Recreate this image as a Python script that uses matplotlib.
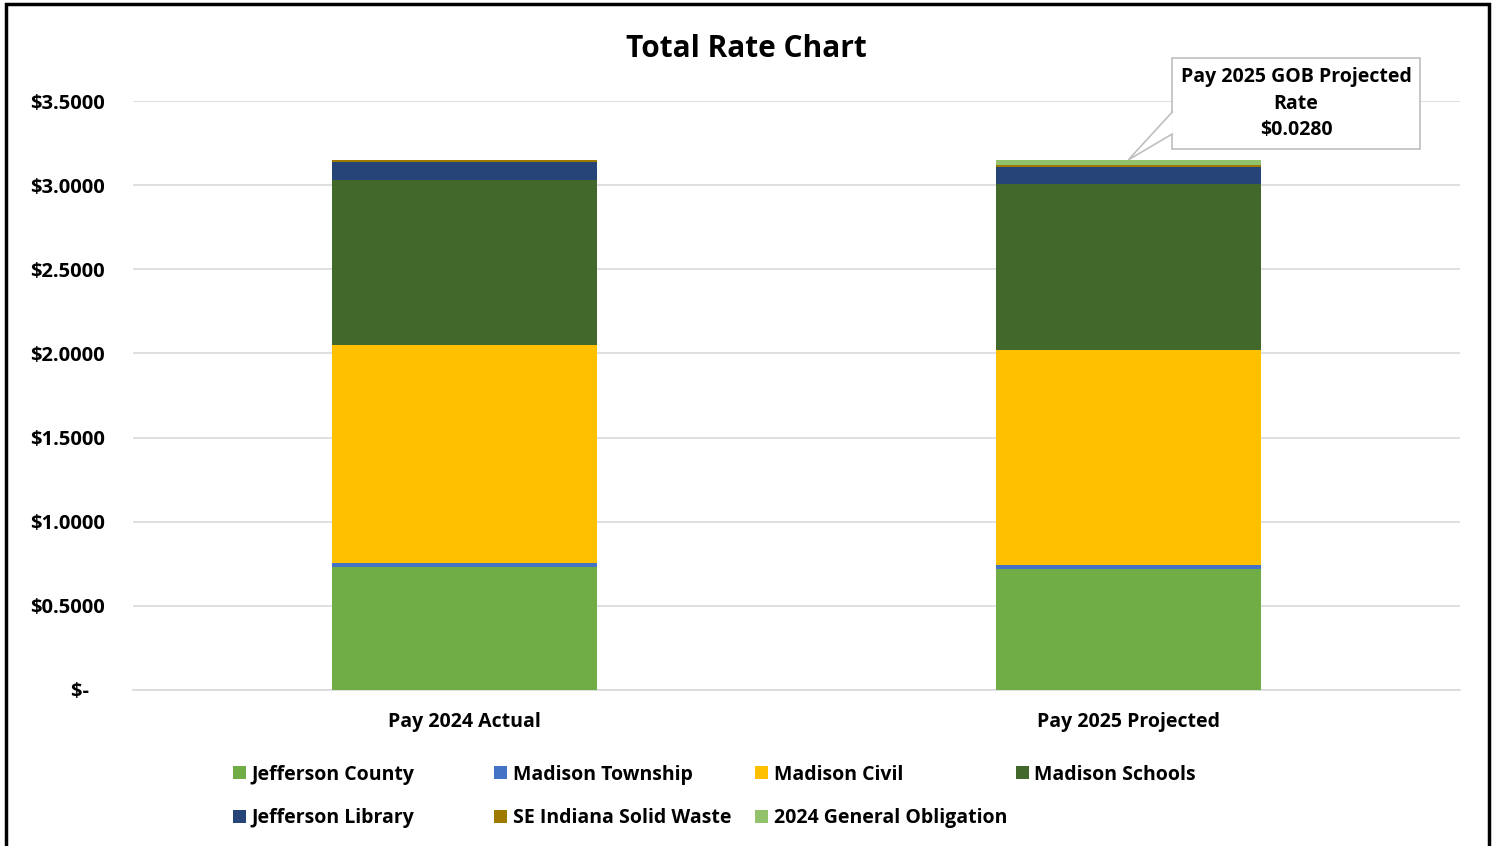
import numpy as np
import matplotlib.pyplot as plt
from matplotlib.patches import Rectangle, Polygon
from matplotlib.transforms import IdentityTransform

plt.rcParams['font.family'] = ['Open Sans', 'DejaVu Sans']
plt.rcParams['font.weight'] = 'bold'

categories = ['Pay 2024 Actual', 'Pay 2025 Projected']
series_names = ['Jefferson County', 'Madison Township', 'Madison Civil', 'Madison Schools',
                'Jefferson Library', 'SE Indiana Solid Waste', '2024 General Obligation']
jefferson_county = [0.731, 0.719]
madison_township = [0.024, 0.026]
madison_civil = [1.295, 1.275]
madison_schools = [0.980, 0.985]
jefferson_library = [0.105, 0.101]
se_solid_waste = [0.014, 0.016]
general_obligation = [0.0, 0.028]
yticks = [0, 0.5, 1.0, 1.5, 2.0, 2.5, 3.0, 3.5]

colors = ['#70ad47', '#4472c4', '#ffc000', '#43682b', '#264478', '#9e7a00', '#92c36c']
series = [jefferson_county, madison_township, madison_civil, madison_schools,
          jefferson_library, se_solid_waste, general_obligation]

fig = plt.figure(figsize=(14.99, 8.46), dpi=100)
ax = fig.add_axes([0.0887, 0.1844, 0.8853, 0.6962])

x = np.arange(len(categories))
bottom = np.zeros(len(categories))
handles = []
for name, vals, c in zip(series_names, series, colors):
    h = ax.bar(x, vals, 0.4, bottom=bottom, color=c, label=name, zorder=3)
    handles.append(h)
    bottom += np.array(vals)

ax.set_xlim(-0.5, 1.5)
ax.set_ylim(0, 3.5)
ax.set_yticks(yticks)
ax.set_yticklabels(['$-   '] + ['$%.4f' % v for v in yticks[1:]], fontsize=14.5, fontweight='bold')
ax.set_xticks(x)
ax.set_xticklabels(categories, fontsize=14, fontweight='bold')
ax.tick_params(axis='x', length=0, pad=16)
ax.tick_params(axis='y', length=0, pad=20)
ax.grid(axis='y', color='#d9d9d9', linewidth=1.2, zorder=0)
for s in ['top', 'right', 'left']:
    ax.spines[s].set_visible(False)
ax.spines['bottom'].set_color('#d9d9d9')
ax.spines['bottom'].set_linewidth(1.2)

fig.text(0.498, 0.942, 'Total Rate Chart', ha='center', va='center', fontsize=21.5, fontweight='bold')

# callout for GOB rate
txt = ax.text(1.253, 3.485, 'Pay 2025 GOB Projected\nRate\n$%.4f' % general_obligation[1],
              ha='center', va='center', fontsize=14, fontweight='bold', linespacing=1.45,
              bbox=dict(boxstyle='square,pad=0.45', fc='white', ec='#bfbfbf', lw=1.2),
              zorder=5, clip_on=False)
fig.canvas.draw()
bb = txt.get_bbox_patch().get_window_extent()
px, py = ax.transData.transform((x[1], bottom[1]))
h_box = bb.y1 - bb.y0
pointer = Polygon([(bb.x0 + 1, bb.y1 - 0.585 * h_box), (px, py), (bb.x0 + 1, bb.y1 - 0.83 * h_box)],
                  closed=False, fc='white', ec='#bfbfbf', lw=1.2,
                  transform=IdentityTransform(), zorder=6, clip_on=False)
ax.add_patch(pointer)

# legend, laid out row-wise in four evenly spaced columns
col_x = [0.1557, 0.3297, 0.5037, 0.6777]
for col in range(4):
    idx = [i for i in (col, col + 4) if i < len(series_names)]
    fig.legend([handles[i] for i in idx], [series_names[i] for i in idx],
               loc='upper left', bbox_to_anchor=(col_x[col], 0.096), frameon=False,
               prop={'size': 14, 'weight': 'bold'}, handlelength=0.65, handleheight=0.65,
               handletextpad=0.3, labelspacing=1.2, borderaxespad=0, borderpad=0)

fig.patches.append(Rectangle((0.004, -0.01), 0.989, 1.005, transform=fig.transFigure,
                             fill=False, ec='black', lw=2.5))

fig.savefig('out.png', dpi=100)
